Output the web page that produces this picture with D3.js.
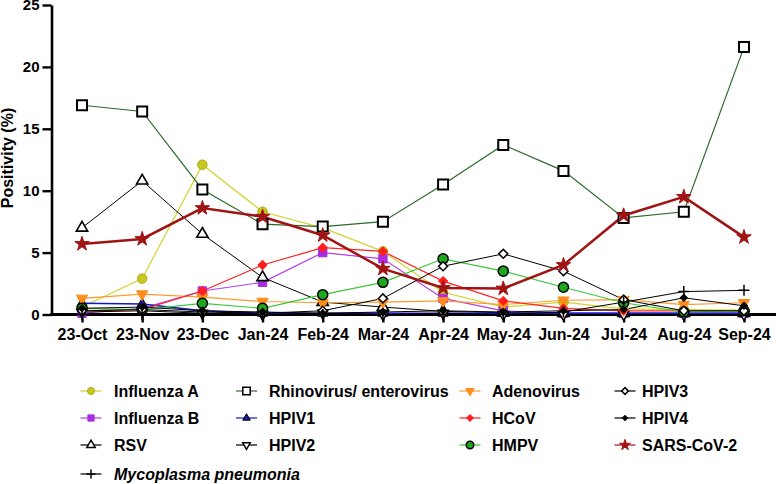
<!DOCTYPE html>
<html><head><meta charset="utf-8">
<script src="https://cdn.jsdelivr.net/npm/d3@7"></script>
<style>
body{margin:0;background:#fff;}
text{font-family:"Liberation Sans",Arial,sans-serif;font-weight:bold;}
</style></head>
<body><svg id="c" width="776" height="484"></svg>
<script>
const months = ["23-Oct","23-Nov","23-Dec","Jan-24","Feb-24","Mar-24","Apr-24","May-24","Jun-24","Jul-24","Aug-24","Sep-24"];
const yTicks = [0,5,10,15,20,25];

const influenzaA  = [0.6, 2.9, 12.1, 8.3, 7.0, 5.1, 1.8, 0.6, 1.0, 0.45, 0.4, 0.35];
const influenzaB  = [0.1, 0.5, 1.9, 2.6, 5.0, 4.5, 1.3, 0.3, 0.1, 0.1, 0.1, 0.1];
const rsv         = [7.0, 10.8, 6.5, 3.0, 1.0, 0.6, 0.25, 0.15, 0.1, 0.1, 0.1, 0.1];
const rhinovirus  = [16.9, 16.4, 10.1, 7.3, 7.1, 7.5, 10.5, 13.7, 11.6, 7.8, 8.3, 21.6];
const hpiv1       = [0.9, 0.85, 0.3, 0.1, 0.1, 0.1, 0.1, 0.1, 0.1, 0.1, 0.1, 0.1];
const hpiv2       = [0.2, 0.3, 0.1, 0.0, 0.1, 0.0, 0.1, 0.0, 0.0, 0.0, 0.0, 0.0];
const adenovirus  = [1.3, 1.65, 1.4, 1.05, 0.95, 1.0, 1.1, 0.8, 1.15, 1.2, 0.8, 0.95];
const hcov        = [0.3, 0.4, 1.9, 4.0, 5.4, 5.1, 2.7, 1.1, 0.5, 0.3, 0.3, 0.3];
const hmpv        = [0.5, 0.4, 0.9, 0.5, 1.6, 2.6, 4.5, 3.5, 2.2, 0.95, 0.2, 0.3];
const hpiv3       = [0.3, 0.4, 0.2, 0.1, 0.3, 1.3, 3.9, 4.9, 3.5, 1.2, 0.3, 0.3];
const hpiv4       = [0.5, 0.6, 0.3, 0.2, 0.1, 0.2, 0.3, 0.2, 0.3, 0.4, 1.35, 0.7];
const sarsCov2    = [5.7, 6.1, 8.6, 7.9, 6.4, 3.7, 2.15, 2.1, 4.0, 8.0, 9.5, 6.25];
const mycoplasma  = [0.0, 0.0, 0.0, 0.0, 0.0, 0.0, 0.0, 0.0, 0.2, 1.0, 1.85, 1.95];

const seriesNames = ["Influenza A","Influenza B","RSV","Rhinovirus/ enterovirus","HPIV1","HPIV2","Adenovirus","HCoV","HMPV","HPIV3","HPIV4","SARS-CoV-2","Mycoplasma pneumonia"];
const seriesValues = [influenzaA,influenzaB,rsv,rhinovirus,hpiv1,hpiv2,adenovirus,hcov,hmpv,hpiv3,hpiv4,sarsCov2,mycoplasma];

// styles (separate from data)
const styles = {
  "Influenza A": {sym:"circle", size:70, fill:"#c8c81e", stroke:"#a8a818", sw:1, line:"#d2d232", lw:1.2},
  "Influenza B": {sym:"square", size:70, fill:"#a82ee0", stroke:"#a82ee0", sw:1, line:"#b040e8", lw:1.2},
  "RSV": {sym:"triangle", size:55, fill:"#fff", stroke:"#000", sw:1.6, line:"#000", lw:1},
  "Rhinovirus/ enterovirus": {sym:"square", size:100, fill:"#fff", stroke:"#000", sw:2, line:"#2d6a2d", lw:1.2},
  "HPIV1": {sym:"triangle", size:45, fill:"#1a1aa0", stroke:"#000", sw:1, line:"#1414c8", lw:1.5},
  "HPIV2": {sym:"triangleDown", size:45, fill:"#fff", stroke:"#000", sw:1.5, line:"#000", lw:1},
  "Adenovirus": {sym:"triangleDown", size:55, fill:"#ff8c1a", stroke:"#ff8c1a", sw:1, line:"#ff9a30", lw:1.2},
  "HCoV": {sym:"diamond", size:40, fill:"#ff1e1e", stroke:"#ff1e1e", sw:1, line:"#ff2424", lw:1.2},
  "HMPV": {sym:"circle", size:80, fill:"#1ea81e", stroke:"#000", sw:1.5, line:"#3cc83c", lw:1.2},
  "HPIV3": {sym:"diamond", size:40, fill:"#fff", stroke:"#000", sw:1.5, line:"#000", lw:1},
  "HPIV4": {sym:"diamond", size:25, fill:"#000", stroke:"#000", sw:1, line:"#000", lw:1},
  "SARS-CoV-2": {sym:"star", size:65, fill:"#a01414", stroke:"#a01414", sw:1, line:"#a01414", lw:2.5},
  "Mycoplasma pneumonia": {sym:"plus", size:0, fill:"none", stroke:"#000", sw:1.5, line:"#000", lw:1, italic:true}
};

const legendLayout = [
  ["Influenza A",0,0],["Influenza B",0,1],["RSV",0,2],["Mycoplasma pneumonia",0,3],
  ["Rhinovirus/ enterovirus",1,0],["HPIV1",1,1],["HPIV2",1,2],
  ["Adenovirus",2,0],["HCoV",2,1],["HMPV",2,2],
  ["HPIV3",3,0],["HPIV4",3,1],["SARS-CoV-2",3,2]
];

const svg = d3.select("#c");
const x = d3.scalePoint().domain(months).range([82, 744]);
const y = d3.scaleLinear().domain([0, 25]).range([314.5, 5]);

function symPath(sym, size, legend){
  if(sym==="plus") return legend ? "M-4.5,0H4.5M0,-4.5V4.5" : "M-5.5,0H5.5M0,-5.5V5.5";
  if(sym==="circle") return d3.symbol(d3.symbolCircle, size)();
  if(sym==="square") return d3.symbol(d3.symbolSquare, size)();
  if(sym==="triangle" || sym==="triangleDown") return d3.symbol(d3.symbolTriangle, size)();
  if(sym==="diamond") return d3.symbol(d3.symbolSquare, size)();
  if(sym==="star") return d3.symbol(d3.symbolStar, size)();
}
function symRot(sym){
  if(sym==="triangleDown") return " rotate(180)";
  if(sym==="diamond") return " rotate(45)";
  return "";
}

// axes
const yAxis = svg.append("g").attr("transform","translate(51.5,0)")
  .call(d3.axisLeft(y).tickValues(yTicks).tickSize(9).tickSizeOuter(0).tickPadding(3));
yAxis.select(".domain").attr("stroke-width",2.6);
yAxis.selectAll(".tick line").attr("stroke-width",2.4);
yAxis.selectAll(".tick text").attr("font-size",15).attr("font-weight","bold").attr("fill","#000");

const xAxis = svg.append("g").attr("transform","translate(0,314.5)")
  .call(d3.axisBottom(x).tickSize(8).tickSizeOuter(0).tickPadding(6));
xAxis.select(".domain").remove();
xAxis.selectAll(".tick line").attr("stroke-width",2.4);
xAxis.selectAll(".tick text").attr("font-size",16).attr("font-weight","bold").attr("fill","#000");
svg.append("line").attr("x1",50.2).attr("x2",776).attr("y1",y(0)).attr("y2",y(0))
  .attr("stroke","#000").attr("stroke-width",3);

svg.append("text").attr("transform","translate(13,158) rotate(-90)")
  .attr("text-anchor","middle").attr("font-size",16).text("Positivity (%)");

// lines
const line = d3.line().x((d,i)=>x(months[i])).y(d=>y(d));
const lineOrder = [0,1,2,4,5,6,7,8,9,10,12,3,11];
lineOrder.forEach(k=>{
  const st = styles[seriesNames[k]];
  svg.append("path").datum(seriesValues[k]).attr("d",line)
    .attr("fill","none").attr("stroke",st.line).attr("stroke-width",st.lw);
});
// markers
lineOrder.forEach(k=>{
  const st = styles[seriesNames[k]];
  svg.append("g").selectAll("path").data(seriesValues[k]).join("path")
    .attr("d",symPath(st.sym, st.size))
    .attr("transform",(d,i)=>`translate(${x(months[i])},${y(d)})${symRot(st.sym)}`)
    .attr("fill",st.fill).attr("stroke",st.stroke).attr("stroke-width",st.sw);
});

// legend
const colSym = [91, 246.5, 470, 625];
const colTxt = [114, 269, 492, 642];
const rowY = [391, 418, 445, 474];
legendLayout.forEach(([name,c,r])=>{
  const st = styles[name];
  const g = svg.append("g");
  const cx = colSym[c], cy = rowY[r];
  g.append("line").attr("x1",cx-10.5).attr("x2",cx+10.5).attr("y1",cy).attr("y2",cy)
    .attr("stroke",st.line).attr("stroke-width",1.2);
  g.append("path").attr("d",symPath(st.sym, st.size*0.55, true))
    .attr("transform",`translate(${cx},${cy})${symRot(st.sym)}`)
    .attr("fill",st.fill).attr("stroke",st.stroke).attr("stroke-width",Math.min(st.sw,1.5));
  g.append("text").attr("x",colTxt[c]).attr("y",cy+6).attr("font-size",16)
    .attr("font-style",st.italic?"italic":"normal").text(name);
});
</script></body></html>
